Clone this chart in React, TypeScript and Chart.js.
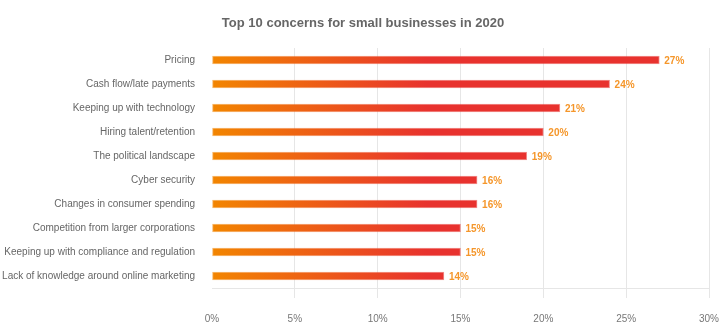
import React, { useEffect, useRef } from "react";
import { Chart, registerables } from "chart.js";

Chart.register(...registerables);

const titleText = "Top 10 concerns for small businesses in 2020";
const categories = [
  "Pricing",
  "Cash flow/late payments",
  "Keeping up with technology",
  "Hiring talent/retention",
  "The political landscape",
  "Cyber security",
  "Changes in consumer spending",
  "Competition from larger corporations",
  "Keeping up with compliance and regulation",
  "Lack of knowledge around online marketing",
];
const values = [27, 24, 21, 20, 19, 16, 16, 15, 15, 14];
const xTicks = [0, 5, 10, 15, 20, 25, 30];

const ORANGE = "#F28500";
const RED = "#E8322E";
const FONT = "'Liberation Sans', Arial, sans-serif";

const gradCache: { key: string; fill: any; border: any } = { key: "", fill: null, border: null };
function getGradients(chart: any) {
  const x = chart.scales && chart.scales.x;
  if (!x) return null;
  const x0 = x.getPixelForValue(0);
  const x1 = x.getPixelForValue(13);
  if (!isFinite(x0) || !isFinite(x1) || x1 === x0) return null;
  const key = x0 + "_" + x1;
  if (gradCache.key !== key || !gradCache.fill) {
    const ctx = chart.ctx;
    const g = ctx.createLinearGradient(x0, 0, x1, 0);
    g.addColorStop(0, ORANGE);
    g.addColorStop(1, RED);
    const b = ctx.createLinearGradient(x0, 0, x1, 0);
    b.addColorStop(0, "rgba(242,133,0,0.55)");
    b.addColorStop(1, "rgba(232,50,46,0.55)");
    gradCache.key = key;
    gradCache.fill = g;
    gradCache.border = b;
  }
  return gradCache;
}

const valueLabels = {
  id: "valueLabels",
  afterDatasetsDraw(chart: any) {
    const ctx = chart.ctx;
    const meta = chart.getDatasetMeta(0);
    ctx.save();
    ctx.font = "bold 10px " + FONT;
    ctx.fillStyle = "#F5962A";
    ctx.textAlign = "left";
    ctx.textBaseline = "middle";
    meta.data.forEach((bar: any, i: number) => {
      ctx.fillText(values[i] + "%", bar.x + 5, bar.y + 1);
    });
    ctx.restore();
  },
};

const titlePlugin = {
  id: "customTitle",
  afterDraw(chart: any) {
    const ctx = chart.ctx;
    ctx.save();
    ctx.font = "bold 13px " + FONT;
    ctx.fillStyle = "#666666";
    ctx.textAlign = "center";
    ctx.textBaseline = "middle";
    ctx.fillText(titleText, 363, 23);
    ctx.restore();
  },
};

export default function App() {
  const canvasRef = useRef<HTMLCanvasElement | null>(null);

  useEffect(() => {
    if (!canvasRef.current) return;
    const chart = new Chart(canvasRef.current, {
      type: "bar",
      data: {
        labels: categories,
        datasets: [
          {
            data: values,
            barThickness: 8,
            borderWidth: 1,
            borderSkipped: false,
            backgroundColor: (c: any) => {
              const g = getGradients(c.chart);
              return g ? g.fill : ORANGE;
            },
            borderColor: (c: any) => {
              const g = getGradients(c.chart);
              return g ? g.border : ORANGE;
            },
          },
        ],
      },
      options: {
        indexAxis: "y",
        animation: false,
        responsive: true,
        maintainAspectRatio: false,
        layout: { padding: { left: 0, right: 12, top: 48, bottom: 0 } },
        plugins: {
          legend: { display: false },
          tooltip: { enabled: false },
          title: { display: false },
        },
        scales: {
          x: {
            min: 0,
            max: 30,
            afterBuildTicks: (s: any) => {
              s.ticks = xTicks.map((v) => ({ value: v }));
            },
            afterFit: (s: any) => {
              s.height = 42;
              s.paddingLeft = 0;
              s.paddingRight = 0;
            },
            grid: {
              color: (c: any) => (c.index === 0 ? "rgba(0,0,0,0)" : "#E6E6E6"),
              tickLength: 10,
              lineWidth: 1,
            },
            border: { display: true, color: "#E6E6E6" },
            ticks: {
              padding: 15,
              color: "#777777",
              font: { family: FONT, size: 10 },
              callback: (v: any) => v + "%",
            },
          },
          y: {
            afterFit: (s: any) => {
              s.width = 212;
            },
            grid: { display: false },
            border: { display: false },
            ticks: {
              padding: 9,
              color: "#666666",
              font: { family: FONT, size: 10 },
            },
          },
        },
      },
      plugins: [valueLabels, titlePlugin],
    });
    return () => chart.destroy();
  }, []);

  return (
    <div style={{ position: "fixed", left: 0, top: 0, width: 721, height: 330, background: "#fff" }}>
      <canvas ref={canvasRef} />
    </div>
  );
}
